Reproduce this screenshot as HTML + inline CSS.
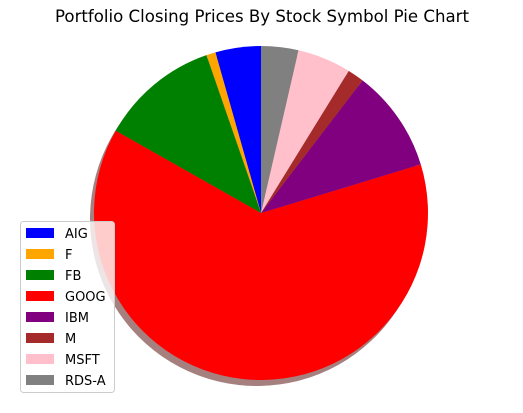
<!DOCTYPE html>
<html><head><meta charset="utf-8"><style>
body{margin:0;background:#fff;}
svg{display:block;font-family:"DejaVu Sans","Liberation Sans",sans-serif;}
</style></head><body>
<svg id="chart" width="523" height="413">
<text x="262" y="22" text-anchor="middle" font-size="16.6">Portfolio Closing Prices By Stock Symbol Pie Chart</text>
<g id="shadow"></g>
<g id="slices"></g>
<g id="legend"></g>
</svg>
<script>
const categories=["AIG","F","FB","GOOG","IBM","M","MSFT","RDS-A"];
const values=[4.4,0.9,11.5,62.9,9.9,1.6,5.2,3.6];
const colors=["blue","orange","green","red","purple","brown","pink","gray"];
const shadowColors=["rgb(0,0,77)","rgb(77,50,0)","rgb(0,38,0)","rgb(77,0,0)","rgb(38,0,38)","rgb(50,13,13)","rgb(77,58,61)","rgb(38,38,38)"];
const NS="http://www.w3.org/2000/svg";
const cx=261,cy=213,r=167;
const total=values.reduce((a,b)=>a+b,0);
function pt(a,ox,oy){const rad=a*Math.PI/180;return [cx+ox+r*Math.cos(rad),cy+oy-r*Math.sin(rad)];}
function wedge(a0,a1,ox,oy){const p0=pt(a0,ox,oy),p1=pt(a1,ox,oy);const large=(a1-a0)>180?1:0;
return `M${cx+ox},${cy+oy}L${p0[0]},${p0[1]}A${r},${r} 0 ${large} 0 ${p1[0]},${p1[1]}Z`;}
const sh=document.getElementById('shadow');
const g=document.getElementById('slices');
let a=90;
values.forEach((v,i)=>{const span=v/total*360;
const s=document.createElementNS(NS,'path');
s.setAttribute('d',wedge(a,a+span,-4,6));s.setAttribute('fill',shadowColors[i]);s.setAttribute('fill-opacity','0.5');


sh.appendChild(s);
const p=document.createElementNS(NS,'path');
p.setAttribute('d',wedge(a,a+span,0,0));p.setAttribute('fill',colors[i]);


g.appendChild(p);a+=span;});
const lg=document.getElementById('legend');
const box=document.createElementNS(NS,'rect');
box.setAttribute('x',20.5);box.setAttribute('y',221.5);box.setAttribute('width',94);box.setAttribute('height',171);box.setAttribute('rx',3);
box.setAttribute('fill','rgba(255,255,255,0.8)');box.setAttribute('stroke','#ccc');


lg.appendChild(box);
categories.forEach((c,i)=>{const y=233+i*21;
const rc=document.createElementNS(NS,'rect');rc.setAttribute('x',26);rc.setAttribute('y',y-5);rc.setAttribute('width',28);rc.setAttribute('height',10);rc.setAttribute('fill',colors[i]);


lg.appendChild(rc);
const t=document.createElementNS(NS,'text');t.setAttribute('x',65);t.setAttribute('y',y+5);t.setAttribute('font-size','13');t.textContent=c;


lg.appendChild(t);});
</script>
</body></html>
